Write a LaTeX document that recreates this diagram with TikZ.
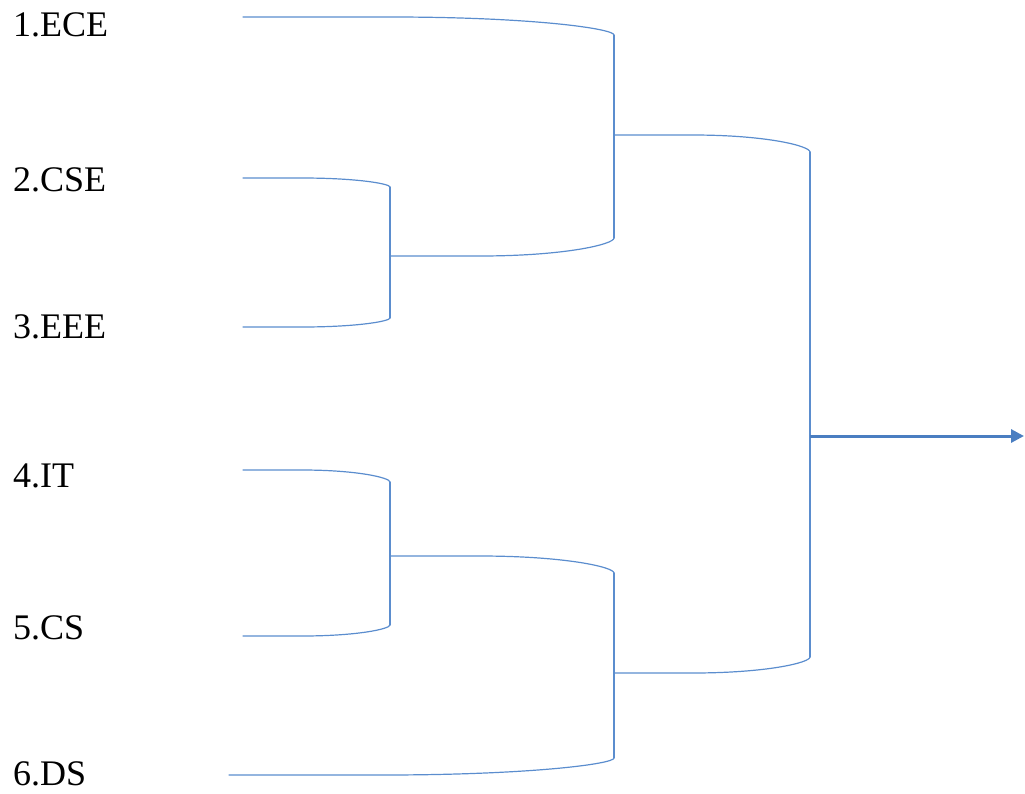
\documentclass[tikz,border=0pt]{standalone}
\usepackage{fontspec}
\setmainfont{Liberation Serif}
\usetikzlibrary{calc,arrows.meta}
\definecolor{brblue}{RGB}{91,141,206}
\definecolor{arblue}{RGB}{74,126,193}
\newcommand\armto[2]{(#1) -- ($(#1)!0.4!(#2 |- #1)$) .. controls ($(#1)!0.78!(#2 |- #1)$) and ($(#2)!0.35!(#2 |- #1)$) .. (#2)}
\begin{document}
\begin{tikzpicture}[x=1pt,y=-1pt,
  br/.style={draw=brblue,line width=1.2pt,line cap=round,line join=round},
  lbl/.style={anchor=base west,inner sep=0pt,font=\fontsize{36}{43}\selectfont}]
\useasboundingbox (0,0) rectangle (1025,793);
% labels
\node[lbl] (l1) at (13,36) {1.ECE};
\node[lbl] (l2) at (13,191) {2.CSE};
\node[lbl] (l3) at (13,338) {3.EEE};
\node[lbl] (l4) at (13,487) {4.IT};
\node[lbl] (l5) at (13,639) {5.CS};
\node[lbl] (l6) at (13,785) {6.DS};
% leaf arm starts
\coordinate (s1) at (243,17);
\coordinate (s2) at (243,178);
\coordinate (s3) at (243,327);
\coordinate (s4) at (243,470);
\coordinate (s5) at (243,636);
\coordinate (s6) at (229,775);
% bracket 2-3
\coordinate (p1) at (390,187);
\coordinate (p2) at (390,318);
\coordinate (m23) at (390,256);
% bracket 1-(2,3)
\coordinate (a1) at (614,35);
\coordinate (a2) at (614,238);
\coordinate (mA) at (614,135);
% bracket 4-5
\coordinate (q1) at (390,482);
\coordinate (q2) at (390,625);
\coordinate (m45) at (390,556);
% bracket (4,5)-6
\coordinate (d1) at (614,573);
\coordinate (d2) at (614,758);
\coordinate (mD) at (614,673);
% final bracket
\coordinate (c1) at (810,152);
\coordinate (c2) at (810,657);
\coordinate (mC) at (810,436);
\coordinate (out) at (1024,436);
% bracket 2-3
\draw[br] \armto{s2}{p1};
\draw[br] (p1) -- (p2);
\draw[br] \armto{s3}{p2};
% bracket 1-(2,3)
\draw[br] \armto{s1}{a1};
\draw[br] (a1) -- (a2);
\draw[br] \armto{m23}{a2};
% bracket 4-5
\draw[br] \armto{s4}{q1};
\draw[br] (q1) -- (q2);
\draw[br] \armto{s5}{q2};
% bracket (4,5)-6
\draw[br] \armto{m45}{d1};
\draw[br] (d1) -- (d2);
\draw[br] \armto{s6}{d2};
% final bracket
\draw[br] \armto{mA}{c1};
\draw[br] (c1) -- (c2);
\draw[br] \armto{mD}{c2};
% output arrow
\draw[draw=arblue,line width=3pt,-{Triangle[length=13pt,width=13pt]},fill=arblue] (mC) -- (out);
\end{tikzpicture}
\end{document}
